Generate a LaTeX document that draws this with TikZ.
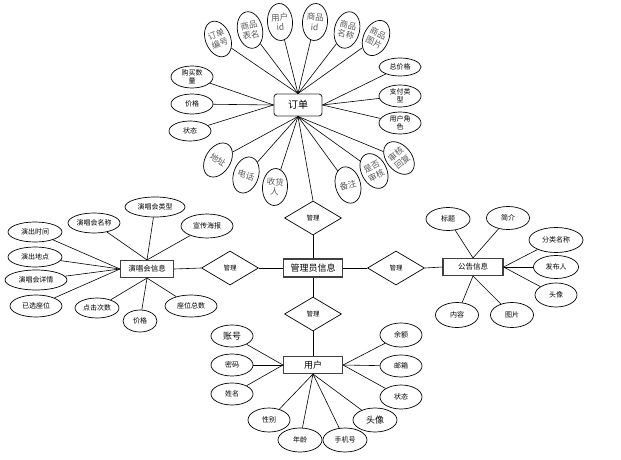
\documentclass[tikz,border=0pt]{standalone}
\usepackage{fontspec}
\setmainfont{Noto Sans CJK SC}
\usetikzlibrary{shapes.geometric}
\tikzset{
  attr/.style={ellipse, draw, line width=0.7pt, inner sep=0pt, align=center, font=\fontsize{7}{8}\selectfont, minimum width=42pt, minimum height=22pt},
  rattr/.style={attr, minimum width=25pt, minimum height=37pt, text=black!65, font=\fontsize{8.5}{10}\selectfont},
  ent/.style={rectangle, draw=black!75, line width=1.1pt, inner sep=0pt, font=\fontsize{9}{10}\selectfont, minimum width=59pt, minimum height=18pt},
  rel/.style={diamond, draw, line width=0.7pt, inner sep=0pt, aspect=1.65, minimum width=57pt, minimum height=34pt, font=\fontsize{6.5}{7}\selectfont},
  link/.style={draw, line width=0.6pt}
}
\begin{document}
\begin{tikzpicture}[x=1pt,y=-1pt]
\useasboundingbox (0,0) rectangle (621,460);
% order cluster
\node[rectangle, rounded corners=3pt, draw=black!80, line width=0.9pt, minimum width=48pt, minimum height=22pt, font=\fontsize{10}{11}\selectfont] (order) at (298,105) {订单};
\node[rattr, rotate=22] (a1) at (218,39) {订单\\编号};
\node[rattr, rotate=12] (a2) at (250,30) {商品\\表名};
\node[rattr, rotate=4] (a3) at (280,22) {用户\\id};
\node[rattr, rotate=-4] (a4) at (315,22) {商品\\id};
\node[rattr, rotate=-14] (a5) at (347,30) {商品\\名称};
\node[rattr, rotate=-25] (a6) at (376,38) {商品\\图片};
\node[attr] (b1) at (192,77) {购买数\\量};
\node[attr, minimum height=20pt] (b2) at (192,104) {价格};
\node[attr, minimum height=20pt] (b3) at (190,131) {状态};
\node[attr, minimum height=18pt] (c1) at (400,67) {总价格};
\node[attr] (c2) at (400,96) {支付类\\型};
\node[attr] (c3) at (400,123) {用户角\\色};
\node[rattr, rotate=40] (d1) at (399,158) {审核\\回复};
\node[rattr, rotate=28] (d2) at (374,171) {是否\\审核};
\node[rattr, rotate=15] (d3) at (348,185) {备注};
\node[rattr, rotate=-4] (d4) at (275,187) {收货\\人};
\node[rattr, rotate=-18] (d5) at (246,175) {电话};
\node[rattr, rotate=-32] (d6) at (218,160) {地址};
\foreach \n in {a1,a2,a3,a4,a5,a6} \path[link] (order.north) -- (\n);
\foreach \n in {b1,b2,b3} \path[link] (order.west) -- (\n);
\foreach \n in {c1,c2,c3} \path[link] (order.east) -- (\n);
\foreach \n in {d1,d2,d3,d4,d5,d6} \path[link] (order.south) -- (\n);
% relations and admin
\node[ent] (admin) at (313,268) {管理员信息};
\node[rel] (r1) at (313,218) {管理};
\node[rel] (r2) at (230,268) {管理};
\node[rel] (r3) at (396,268) {管理};
\node[rel] (r4) at (313,314) {管理};
\node[ent, minimum width=53pt, minimum height=17pt, font=\fontsize{7.5}{8}\selectfont] (concert) at (147,269) {演唱会信息};
\node[ent, minimum width=60pt, minimum height=17pt, font=\fontsize{7.5}{8}\selectfont] (notice) at (473,267) {公告信息};
\node[ent, minimum height=17pt] (user) at (313,365) {用户};
\path[link] (order.south) -- (r1.north);
\path[link] (r1.south) -- (admin.north);
\path[link] (admin.west) -- (r2.east);
\path[link] (r2.west) -- (concert.east);
\path[link] (admin.east) -- (r3.west);
\path[link] (r3.east) -- (notice.west);
\path[link] (admin.south) -- (r4.north);
\path[link] (r4.south) -- (user.north);
% concert attributes
\node[attr, minimum width=60pt, minimum height=20pt] (e1) at (155,207) {演唱会类型};
\node[attr, minimum width=52pt, minimum height=20pt] (e2) at (94,223) {演唱会名称};
\node[attr, minimum width=52pt, minimum height=24pt] (e3) at (207,226) {宣传海报};
\node[attr, minimum width=54pt, minimum height=20pt] (e4) at (35,232) {演出时间};
\node[attr, minimum width=54pt, minimum height=20pt] (e5) at (35,257) {演出地点};
\node[attr, minimum width=62pt, minimum height=20pt] (e6) at (36,280) {演唱会详情};
\node[attr, minimum width=52pt, minimum height=22pt] (e7) at (36,306) {已选座位};
\node[attr, minimum width=44pt, minimum height=20pt] (e8) at (97,308) {点击次数};
\node[attr, minimum width=34pt, minimum height=22pt] (e9) at (140,321) {价格};
\node[attr, minimum width=52pt, minimum height=22pt] (e10) at (191,306) {座位总数};
\foreach \n in {e1,e2,e3} \path[link] (concert.north) -- (\n);
\foreach \n in {e4,e5,e6,e7} \path[link] (concert.west) -- (\n);
\foreach \n in {e8,e9,e10} \path[link] (concert.south) -- (\n);
% notice attributes
\node[attr, minimum width=44pt, minimum height=23pt] (n1) at (448,219) {标题};
\node[attr, minimum width=43pt, minimum height=23pt] (n2) at (508,218) {简介};
\node[attr, minimum width=54pt, minimum height=25pt] (n3) at (556,240) {分类名称};
\node[attr, minimum width=45pt, minimum height=23pt] (n4) at (556,267) {发布人};
\node[attr, minimum width=42pt, minimum height=24pt] (n5) at (556,295) {头像};
\node[attr, minimum width=43pt, minimum height=25pt] (n6) at (457,315) {内容};
\node[attr, minimum width=43pt, minimum height=25pt] (n7) at (512,315) {图片};
\foreach \n in {n1,n2} \path[link] (notice.north) -- (\n);
\foreach \n in {n3,n4,n5} \path[link] (notice.east) -- (\n);
\foreach \n in {n6,n7} \path[link] (notice.south) -- (\n);
% user attributes
\node[attr, font=\fontsize{9}{10}\selectfont] (u1) at (232,336) {账号};
\node[attr] (u2) at (232,365) {密码};
\node[attr] (u3) at (232,394) {姓名};
\node[attr, minimum height=24pt] (u4) at (269,420) {性别};
\node[attr, minimum width=44pt, minimum height=24pt] (u5) at (300,440) {年龄};
\node[attr, minimum width=44pt, minimum height=24pt] (u6) at (345,440) {手机号};
\node[attr, minimum width=44pt, minimum height=24pt, font=\fontsize{9}{10}\selectfont] (u7) at (375,420) {头像};
\node[attr, minimum height=24pt] (u8) at (401,335) {余额};
\node[attr] (u9) at (401,366) {邮箱};
\node[attr, minimum height=24pt] (u10) at (401,397) {状态};
\foreach \n in {u1,u2,u3} \path[link] (user.west) -- (\n);
\foreach \n in {u4,u5,u6,u7} \path[link] (user.south) -- (\n);
\foreach \n in {u8,u9,u10} \path[link] (user.east) -- (\n);
\end{tikzpicture}
\end{document}
